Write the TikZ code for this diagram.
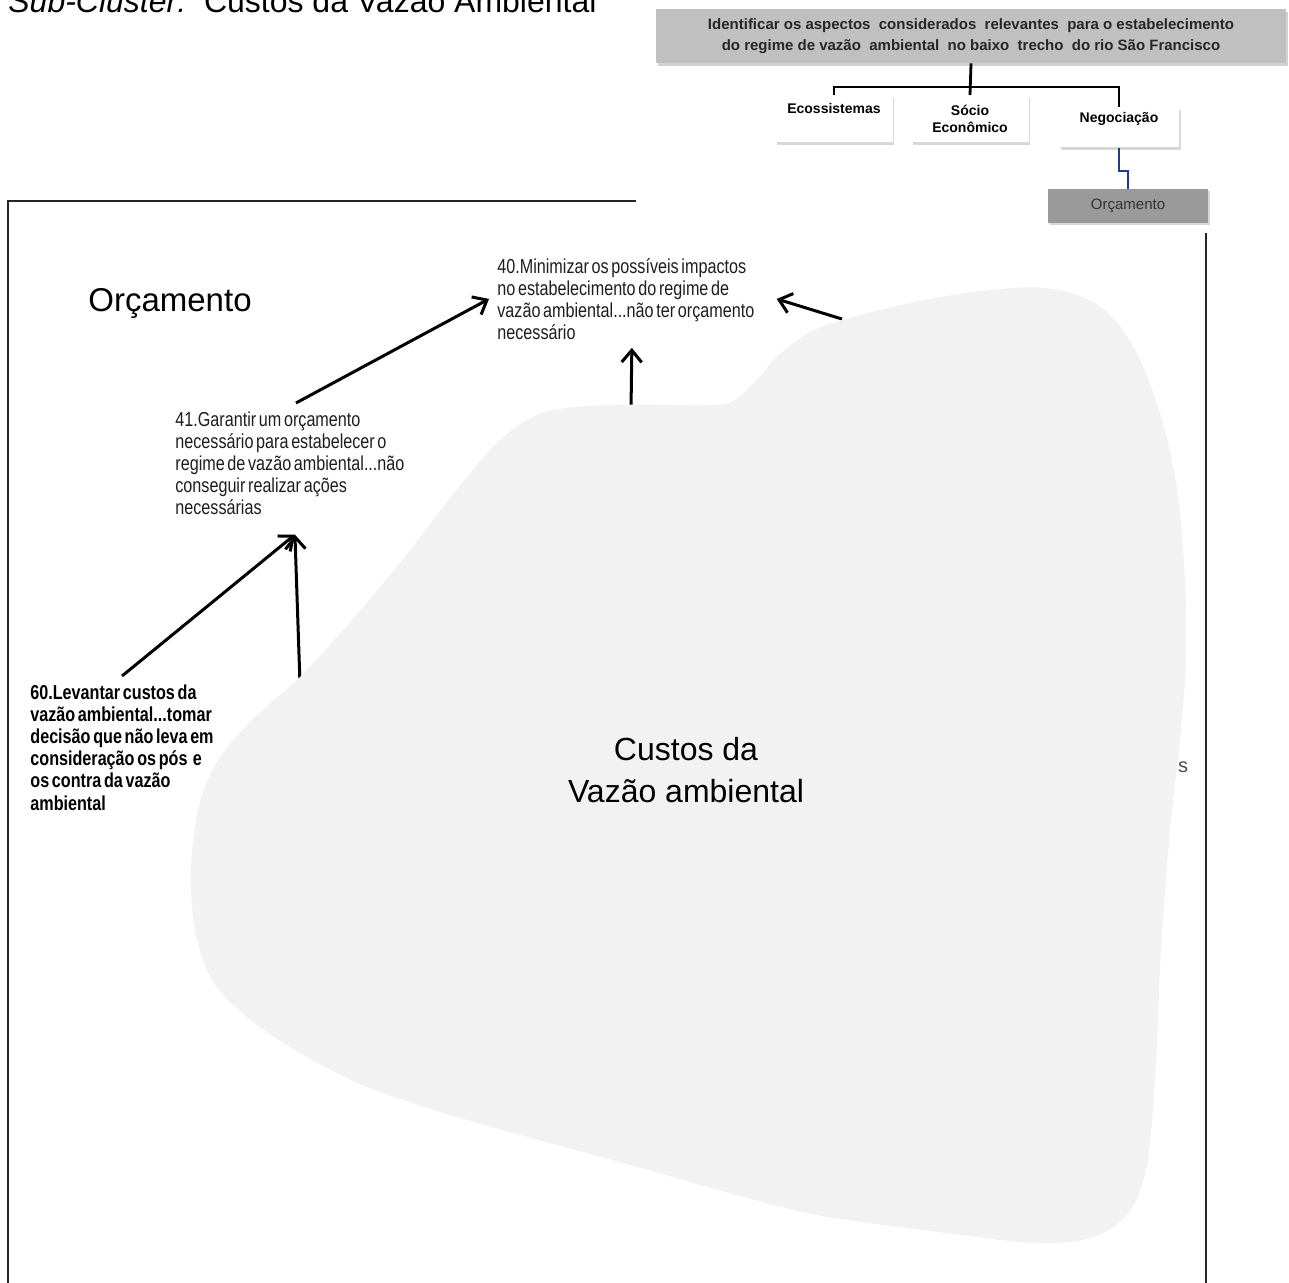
\documentclass[tikz,border=0pt]{standalone}
\usepackage{fontspec}
\setmainfont{Liberation Sans}
\newfontfamily\narrowfont[FakeStretch=0.8,WordSpace=0.6]{Liberation Sans}
\usepackage{tikz}
\usetikzlibrary{positioning,arrows.meta,shadows}
\definecolor{blobgray}{HTML}{F2F2F2}
\definecolor{goalgray}{HTML}{C0C0C0}
\definecolor{budgetgray}{HTML}{9A9A9A}
\definecolor{linkblue}{HTML}{1F3C88}
\definecolor{framec}{HTML}{262626}
\definecolor{ink}{HTML}{1E1E1E}

\tikzset{
  stmt/.style={anchor=north west, align=left, inner sep=4pt, text=ink,
    font=\narrowfont\fontsize{10.1}{11}\selectfont},
  stmtbold/.style={stmt, font=\narrowfont\bfseries\fontsize{10.1}{11.1}\selectfont, text=black},
  arr/.style={line width=1.5pt, -{Straight Barb[length=6pt,width=10pt,line width=1.5pt]}},
  childbox/.style={draw=none, fill=white, anchor=north, minimum width=58.5pt,
    inner xsep=2pt, inner ysep=3pt, align=center,
    font=\bfseries\fontsize{7}{8.5}\selectfont,
    drop shadow={shadow xshift=0.8pt, shadow yshift=-1.2pt, opacity=0.3}},
  tree/.style={line width=1pt, black}
}

\begin{document}
\begin{tikzpicture}[x=0.5pt, y=-0.5pt]
\useasboundingbox (0,0) rectangle (1289,1282);
\fill[white] (0,0) rectangle (1289,1282);

\node[anchor=base west, inner sep=0, font=\fontsize{16}{19}\selectfont] (title) at (8,12)
  {\textit{Sub-Cluster:}\ \ Custos da Vazão Ambiental};

\node[fill=goalgray, minimum width=315pt, minimum height=27pt, align=center,
  font=\bfseries\fontsize{7.5}{10.5}\selectfont, text=black!85,
  drop shadow={shadow xshift=1pt, shadow yshift=-1.5pt, opacity=0.35}] (goal) at (971,36)
  {Identificar os aspectos \ considerados \ relevantes \ para o estabelecimento\\
   do regime de vazão \ ambiental \ no baixo \ trecho \ do rio São Francisco};
\node[childbox, text height=6pt, text depth=11.5pt] (eco) at (834,95) {Ecossistemas};
\node[childbox, minimum height=23.5pt] (socio) at (970,95) {Sócio\\Econômico};
\node[childbox, minimum width=60pt, text height=4.5pt, text depth=9.5pt] (nego) at (1119,107) {Negociação};
\node[fill=budgetgray, minimum width=80pt, minimum height=17pt, font=\fontsize{7.5}{9}\selectfont,
  text=black!80, drop shadow={shadow xshift=0.8pt, shadow yshift=-1pt, opacity=0.3}] (orc) at (1128,206) {Orçamento};

\draw[line width=1.4pt] (goal.south) -- (socio.north);
\draw[tree] (eco.north) -- ++(0,-8) -| (nego.north);
\draw[linkblue, line width=0.9pt] (nego.south) -- ++(0,23) -| (orc.north);

\draw[framec, line width=1.4pt] (636,201) -- (8,201) -- (8,1290);
\draw[framec, line width=1.4pt] (1206,233) -- (1206,1290);

\node[anchor=base west, inner sep=0, font=\fontsize{16.5}{19}\selectfont] (budget) at (88,311) {Orçamento};

\node[stmt] (n40) at (489,250) {40.Minimizar os possíveis impactos\\no estabelecimento do regime de\\vazão ambiental...não ter orçamento\\necessário};
\node[stmt] (n41) at (167,403) {41.Garantir um orçamento\\necessário para estabelecer o\\regime de vazão ambiental...não\\conseguir realizar ações\\necessárias};
\node[stmtbold] (n60) at (22,676) {60.Levantar custos da\\vazão ambiental...tomar\\decisão que não leva em\\consideração os pós \ e\\os contra da vazão\\ambiental};

\coordinate (t40b) at (631,410);
\coordinate (t40c) at (842,319);
\coordinate (t41b) at (300,684);

\draw[arr] ([xshift=3pt]n41.north) -- (n40.west);
\draw[arr] (t40b) -- ([xshift=3pt]n40.south);
\draw[arr] (t40c) -- ([xshift=7pt]n40.east);
\draw[arr] (n60.north) -- ([xshift=2.5pt,yshift=-6pt]n41.south);
\draw[arr] (t41b) -- ([xshift=2.5pt,yshift=-6pt]n41.south);

\fill[blobgray] plot[smooth cycle, tension=0.55] coordinates {
  (545,412) (610,405) (690,405) (728,403) (752,385) (778,356) (812,331)
  (860,315) (930,299) (1000,289) (1045,288) (1085,298) (1115,320) (1140,360)
  (1162,420) (1177,490) (1185,580) (1186,660) (1180,740) (1170,830) (1161,950)
  (1155,1080) (1146,1170) (1126,1216) (1090,1238) (1035,1243) (947,1233)
  (823,1216) (740,1196) (634,1166) (467,1120) (367,1087) (300,1053) (248,1018)
  (212,980) (195,930) (191,870) (198,810) (215,765) (250,722) (300,677)
  (345,628) (400,563) (455,492) (500,440)};

\node[align=center, font=\fontsize{16}{21}\selectfont] (custos) at (686,770) {Custos da\\Vazão ambiental};
\node[inner sep=0, font=\fontsize{10}{12}\selectfont, text=black!70] (frag) at (1183,767) {s};
\end{tikzpicture}
\end{document}
